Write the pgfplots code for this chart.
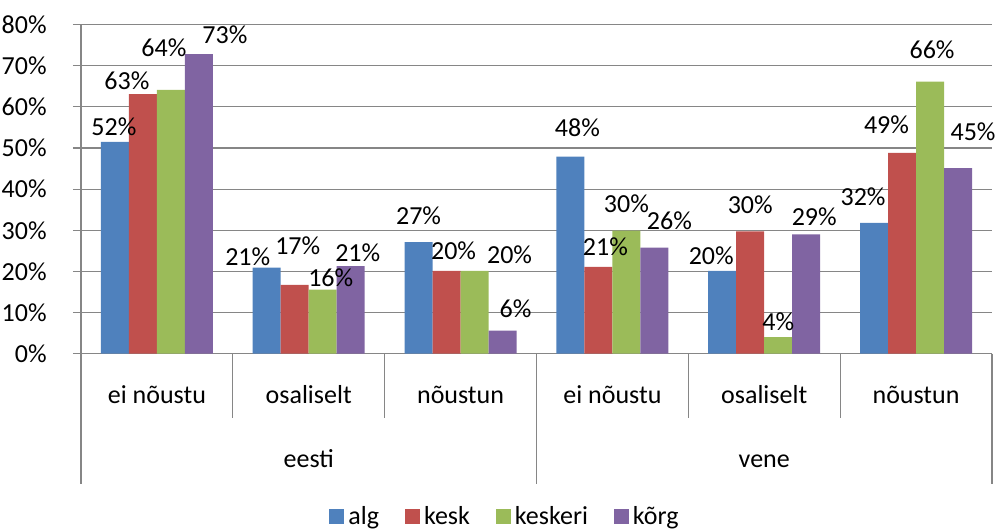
\documentclass[border=0pt]{standalone}
\usepackage{fontspec}
\setmainfont{Carlito}
\usepackage{pgfplots}
\pgfplotsset{compat=1.18}
\usepackage{pgfplotstable}

\definecolor{cA}{HTML}{4F81BD}
\definecolor{cB}{HTML}{C0504D}
\definecolor{cC}{HTML}{9BBB59}
\definecolor{cD}{HTML}{8064A2}
\definecolor{gridc}{HTML}{868686}

% x = category index, y = value (%), lab = printed label, dx/dy = label offset (pt)
\pgfplotstableread{
x y lab dx dy
0 51.5 52 -0.5 7.5
1 20.9 21 -9.5 5.5
2 27.1 27 0 13.3
3 47.9 48 3.5 14.3
4 20.1 20 -5.5 7.5
5 31.8 32 -5.5 13.3
}\tblalg
\pgfplotstableread{
x y lab dx dy
0 63.1 63 -8 6.5
1 16.7 17 1.5 19.5
2 20.1 20 3.5 10.3
3 21.1 21 3.5 10
4 29.7 30 0 13.5
5 48.8 49 -7.8 14
}\tblkesk
\pgfplotstableread{
x y lab dx dy
0 64.1 64 -3.5 21
1 15.6 16 4 6
2 20.1 20 17.5 8.3
3 29.9 30 0 13.5
4 4.0 4 0 8
5 66.1 66 1 16
}\tblkeskeri
\pgfplotstableread{
x y lab dx dy
0 72.8 73 13 9.5
1 21.3 21 3.5 6.5
2 5.6 6 6.5 10.8
3 25.8 26 7.5 13.5
4 29.0 29 4 9
5 45.1 45 7.5 18
}\tblkorg

\pgfplotsset{
  sqlegend/.style={legend image code/.code={\fill[##1] (0pt,-3.25pt) rectangle (7.5pt,4.25pt);}},
}

\begin{document}
\begin{tikzpicture}[font=\fontsize{13}{15.6}\selectfont]
\path[use as bounding box] (-40.5pt,-88.65pt) rectangle (458pt,176.85pt);
\begin{axis}[
  at={(0,0)}, anchor=south west,
  scale only axis, width=455.5pt, height=164.6pt,
  xmin=-0.5, xmax=5.5, ymin=0, ymax=80,
  clip=false,
  ybar=0pt, bar width=14pt,
  axis x line*=bottom, axis y line*=left,
  axis line style={draw=gridc, line width=0.6pt, -},
  xtick=\empty,
  ytick={0,10,...,80},
  yticklabel={\pgfmathprintnumber{\tick}\%},
  /pgf/number format/assume math mode=true,
  yticklabel style={anchor=east, inner sep=0pt, xshift=-13pt},
  tick align=outside, major tick length=4pt,
  tick style={draw=gridc, line width=0.6pt},
  ymajorgrids, grid style={draw=gridc, line width=0.6pt},
  point meta=explicit,
  nodes near coords={\pgfmathprintnumber{\pgfplotspointmeta}\%},
  visualization depends on={\thisrow{dx} \as \lblx},
  visualization depends on={\thisrow{dy} \as \lbly},
  every node near coord/.append style={anchor=center, inner sep=0pt,
     xshift=\lblx pt, yshift=\lbly pt, text=black},
  legend columns=-1,
  legend style={draw=none, at={(0.4665,-0.497)}, anchor=center,
     /tikz/every even column/.append style={column sep=11pt}},
]
\addplot[fill=cA, draw=none, sqlegend] table[x=x, y=y, meta=lab] {\tblalg};
\addplot[fill=cB, draw=none, sqlegend] table[x=x, y=y, meta=lab] {\tblkesk};
\addplot[fill=cC, draw=none, sqlegend] table[x=x, y=y, meta=lab] {\tblkeskeri};
\addplot[fill=cD, draw=none, sqlegend] table[x=x, y=y, meta=lab] {\tblkorg};
\legend{alg, kesk, keskeri, kõrg}

% category separators
\draw[gridc, line width=0.6pt] (axis cs:0.5,0) -- ++(0pt,-32pt);
\draw[gridc, line width=0.6pt] (axis cs:1.5,0) -- ++(0pt,-32pt);
\draw[gridc, line width=0.6pt] (axis cs:3.5,0) -- ++(0pt,-32pt);
\draw[gridc, line width=0.6pt] (axis cs:4.5,0) -- ++(0pt,-32pt);
\draw[gridc, line width=0.6pt] (axis cs:-0.5,0) -- ++(0pt,-65pt);
\draw[gridc, line width=0.6pt] (axis cs:2.5,0) -- ++(0pt,-65pt);
\draw[gridc, line width=0.6pt] (axis cs:5.5,0) -- ++(0pt,-65pt);

% category labels
\node[anchor=base, yshift=-25pt] at (axis cs:0,0) {ei nõustu};
\node[anchor=base, yshift=-25pt] at (axis cs:1,0) {osaliselt};
\node[anchor=base, yshift=-25pt] at (axis cs:2,0) {nõustun};
\node[anchor=base, yshift=-25pt] at (axis cs:3,0) {ei nõustu};
\node[anchor=base, yshift=-25pt] at (axis cs:4,0) {osaliselt};
\node[anchor=base, yshift=-25pt] at (axis cs:5,0) {nõustun};
\node[anchor=base, yshift=-57pt] at (axis cs:1,0) {eesti};
\node[anchor=base, yshift=-57pt] at (axis cs:4,0) {vene};
\end{axis}
\end{tikzpicture}
\end{document}
